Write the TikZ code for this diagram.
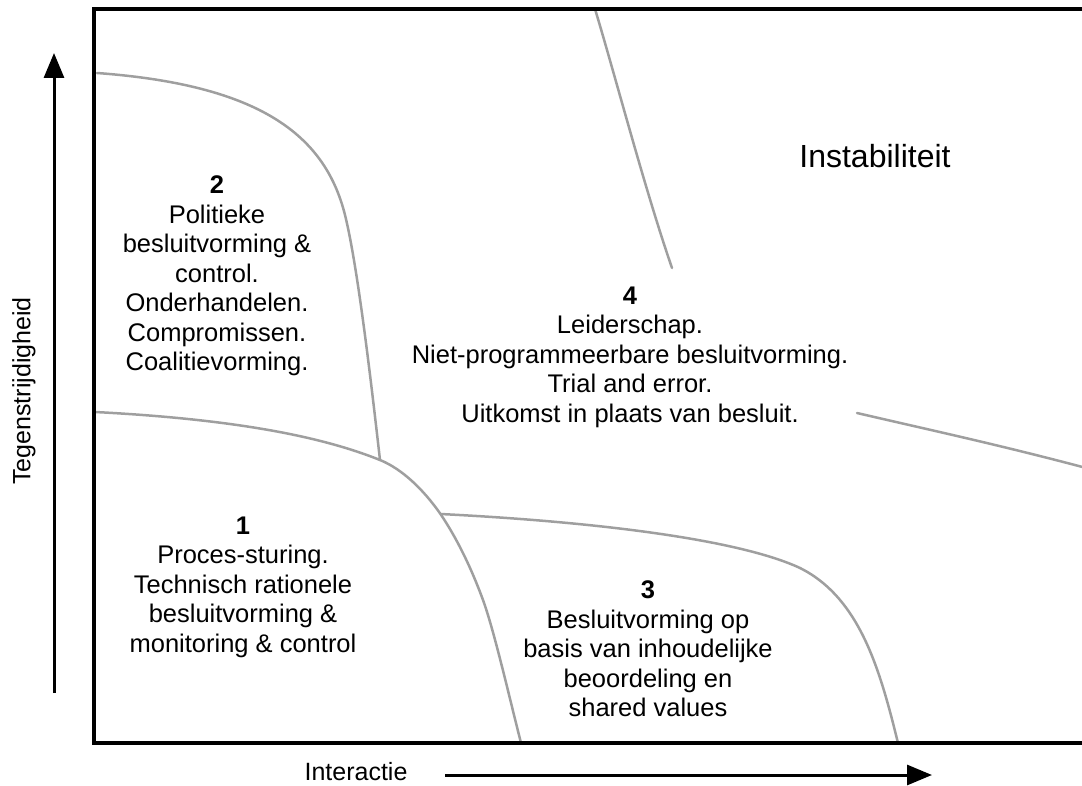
\documentclass[tikz,border=0pt]{standalone}
\usepackage{fontspec}
\setmainfont{Liberation Sans}
\usetikzlibrary{arrows.meta}
\tikzset{
  frame/.style={line width=4pt, line join=miter},
  axis/.style={line width=3pt, -{Triangle[length=25pt,width=20pt]}},
  border/.style={draw=gray!75, line width=2.5pt, line cap=round},
  region/.style={font=\fontsize{25.5}{29.5}\selectfont, align=center},
  axistext/.style={font=\fontsize{25}{30}\selectfont},
}
\begin{document}
\begin{tikzpicture}[x=1pt,y=-1pt]
  \useasboundingbox (0,0) rectangle (1082,786);
  \clip (0,0) rectangle (1082,786);
  \coordinate (tr) at (1100,9);
  \coordinate (tl) at (94,9);
  \coordinate (bl) at (94,743);
  \coordinate (br) at (1100,743);
  \coordinate (ylo) at (54,693);
  \coordinate (yhi) at (54,53);
  \coordinate (xlo) at (445,775);
  \coordinate (xhi) at (932,775);
  \coordinate (aS) at (97,73);
  \coordinate (bS) at (95,412);
  \coordinate (jab) at (380,460);
  \coordinate (jbc) at (440.5,514);
  \coordinate (bE) at (521,743);
  \coordinate (cE) at (898,743);
  \coordinate (dS) at (595,9);
  \coordinate (dE) at (672,268);
  \coordinate (eS) at (857,413);
  \coordinate (eE) at (1090,469);
  \begin{scope}[border]
    \draw (aS) .. controls (260,85) and (325,135) .. (345,215)
      .. controls (358,267) and (372,390) .. (jab);
    \draw (bS) .. controls (250,420) and (330,440) .. (jab)
      .. controls (402,469) and (423,489) .. (jbc)
      .. controls (458,540) and (472,570) .. (483,600)
      .. controls (494,630) and (510,700) .. (bE);
    \draw (jbc) .. controls (600,522) and (740,540) .. (800,568)
      .. controls (860,598) and (880,670) .. (cE);
    \draw (dS) .. controls (615,75) and (645,190) .. (dE);
    \draw (eS) .. controls (930,430) and (1000,445) .. (eE);
  \end{scope}
  \draw[frame] (tr) -- (tl) -- (bl) -- (br);
  \draw[axis] (ylo) -- (yhi);
  \draw[axis] (xlo) -- (xhi);
  \node[region] (r2) at (217,276) {\textbf{2}\\Politieke\\besluitvorming \&\\control.\\Onderhandelen.\\Compromissen.\\Coalitievorming.};
  \node[region] (r1) at (243,587) {\textbf{1}\\Proces-sturing.\\Technisch rationele\\besluitvorming \&\\monitoring \& control};
  \node[region] (r3) at (648,649) {\textbf{3}\\Besluitvorming op\\basis van inhoudelijke\\beoordeling en\\shared values};
  \node[region] (r4) at (630,357) {\textbf{4}\\Leiderschap.\\Niet-programmeerbare besluitvorming.\\Trial and error.\\Uitkomst in plaats van besluit.};
  \node[font=\fontsize{32}{38}\selectfont] (inst) at (875,156) {Instabiliteit};
  \node[axistext] (xlab) at (356,772) {Interactie};
  \node[axistext, rotate=90] (ylab) at (24,391) {Tegenstrijdigheid};
\end{tikzpicture}
\end{document}
